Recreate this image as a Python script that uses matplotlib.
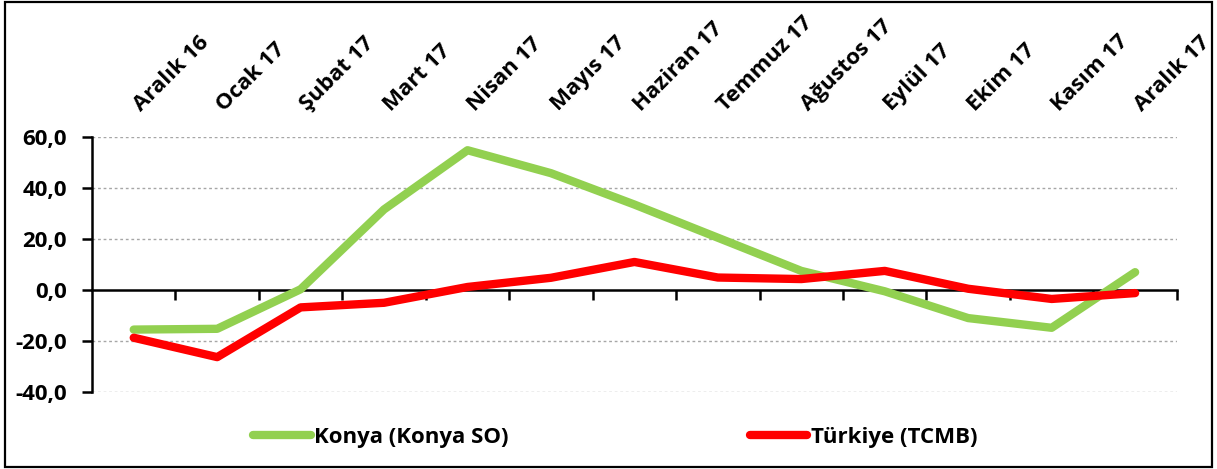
import matplotlib
import matplotlib.pyplot as plt
from matplotlib.patches import Rectangle
from matplotlib.ticker import FuncFormatter, FixedLocator
import matplotlib.transforms as mtransforms

matplotlib.use('Agg')

months = ['Aralık 16', 'Ocak 17', 'Şubat 17', 'Mart 17', 'Nisan 17', 'Mayıs 17',
          'Haziran 17', 'Temmuz 17', 'Ağustos 17', 'Eylül 17', 'Ekim 17',
          'Kasım 17', 'Aralık 17']
konya = [-15.5, -15.2, 0.3, 31.6, 54.8, 45.8, 33.5, 20.5, 7.5, -0.5, -11.0, -14.8, 7.0]
turkiye = [-18.7, -26.3, -6.8, -5.0, 1.2, 4.8, 11.0, 4.9, 4.3, 7.5, 0.5, -3.5, -1.2]
yticks = [-40, -20, 0, 20, 40, 60]

plt.rcParams['font.family'] = ['Open Sans', 'DejaVu Sans']
plt.rcParams['font.weight'] = 'bold'
FS = 16

fig = plt.figure(figsize=(12.17, 4.69), dpi=100)
ax = fig.add_axes([0.0756, 0.164, 0.8914, 0.544])

x = list(range(len(months)))
l1, = ax.plot(x, konya, color='#92D050', lw=6, solid_capstyle='round',
              solid_joinstyle='round', label='Konya (Konya SO)', zorder=3)
l2, = ax.plot(x, turkiye, color='#FF0000', lw=6, solid_capstyle='round',
              solid_joinstyle='round', label='Türkiye (TCMB)', zorder=4)

ax.set_xlim(-0.5, len(months) - 0.5)
ax.set_ylim(-40, 60)

# y axis
ax.set_yticks(yticks)
ax.yaxis.set_major_formatter(FuncFormatter(lambda v, p: f'{v:.1f}'.replace('.', ',')))
ax.tick_params(axis='y', direction='out', length=7, width=1.8, labelsize=FS, pad=11)
for gy in yticks:
    if gy != 0:
        ax.axhline(gy, color='#a6a6a6', lw=1, ls=(0, (2, 2)), zorder=1)

# x axis at zero, category boundary ticks, labels on top
ax.spines['bottom'].set_position(('data', 0))
ax.spines['top'].set_visible(False)
ax.spines['right'].set_visible(False)
ax.spines['left'].set_linewidth(1.8)
ax.spines['bottom'].set_linewidth(1.8)

ax.set_xticks(x)
ax.set_xticklabels(months)
ax.xaxis.set_minor_locator(FixedLocator([i + 0.5 for i in x]))
ax.tick_params(axis='x', which='major', bottom=False, labelbottom=False,
               top=True, labeltop=True, length=0, labelsize=FS, pad=18)
ax.tick_params(axis='x', which='minor', bottom=True, top=False,
               direction='out', length=7, width=1.8)
shift = mtransforms.ScaledTranslation(0.07, 0, fig.dpi_scale_trans)
for lab in ax.get_xticklabels():
    lab.set_rotation(45)
    lab.set_ha('left')
    lab.set_va('baseline')
    lab.set_rotation_mode('anchor')
    lab.set_transform(lab.get_transform() + shift)

# legend
fig.legend(handles=[l1], loc='center left', bbox_to_anchor=(0.208, 0.068),
           frameon=False, fontsize=FS, handlelength=2.6, handletextpad=0.15,
           borderpad=0, borderaxespad=0)
fig.legend(handles=[l2], loc='center left', bbox_to_anchor=(0.616, 0.068),
           frameon=False, fontsize=FS, handlelength=2.6, handletextpad=0.15,
           borderpad=0, borderaxespad=0)

# outer border
fig.patches.append(Rectangle((0.004, 0.005), 0.992, 0.99, transform=fig.transFigure,
                             fill=False, edgecolor='black', lw=1.6))

fig.savefig('out.png', dpi=100)
